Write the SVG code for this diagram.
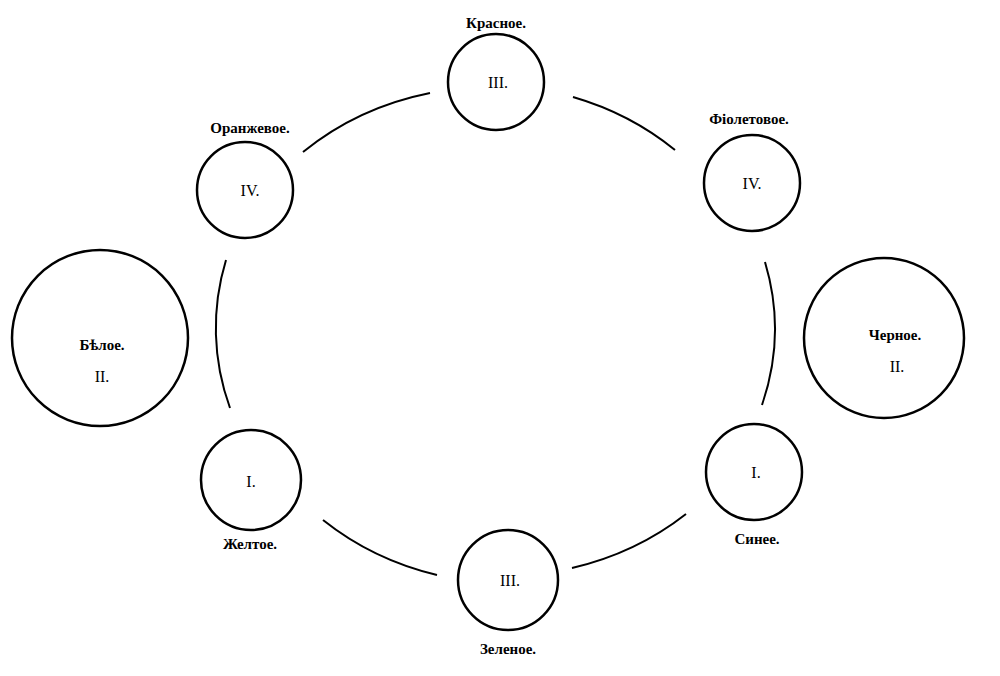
<svg xmlns="http://www.w3.org/2000/svg" width="1000" height="676" viewBox="0 0 1000 676">
<style>
.c{fill:none;stroke:#000;stroke-width:2.5}
.a{fill:none;stroke:#000;stroke-width:2}
text{font-family:"Liberation Serif",serif;font-size:15px;font-weight:bold;text-anchor:middle;fill:#000}
text.n{font-weight:normal;font-size:16px}
</style>
<rect width="1000" height="676" fill="#fff"/>
<g id="connectors">
<path class="a" d="M303 152 A281 255 0 0 1 430 93"/>
<path class="a" d="M573 97 A281 255 0 0 1 675 150"/>
<path class="a" d="M765 262 A281 255 0 0 1 762 405"/>
<path class="a" d="M686 514 A281 255 0 0 1 572 568"/>
<path class="a" d="M437 575 A281 255 0 0 1 323 520"/>
<path class="a" d="M230 408 A281 255 0 0 1 226 260"/>
</g>
<g id="red"><circle class="c" cx="496" cy="82" r="48"/><text x="496" y="28">Красное.</text><text class="n" x="498" y="88">III.</text></g>
<g id="orange"><circle class="c" cx="245" cy="190" r="48"/><text x="250" y="133">Оранжевое.</text><text class="n" x="250" y="196">IV.</text></g>
<g id="violet"><circle class="c" cx="752" cy="183" r="48"/><text x="749" y="124">Фіолетовое.</text><text class="n" x="752" y="189">IV.</text></g>
<g id="white"><circle class="c" cx="100" cy="338" r="88"/><text x="102" y="350">Бѣлое.</text><text class="n" x="102" y="382">II.</text></g>
<g id="black"><circle class="c" cx="884" cy="338" r="80"/><text x="895" y="340">Черное.</text><text class="n" x="897" y="372">II.</text></g>
<g id="yellow"><circle class="c" cx="251" cy="480" r="50"/><text class="n" x="251" y="487">I.</text><text x="250" y="549">Желтое.</text></g>
<g id="blue"><circle class="c" cx="754" cy="472" r="48"/><text class="n" x="756" y="478">I.</text><text x="757" y="544">Синее.</text></g>
<g id="green"><circle class="c" cx="508" cy="580" r="50"/><text class="n" x="510" y="586">III.</text><text x="508" y="654">Зеленое.</text></g>
</svg>
